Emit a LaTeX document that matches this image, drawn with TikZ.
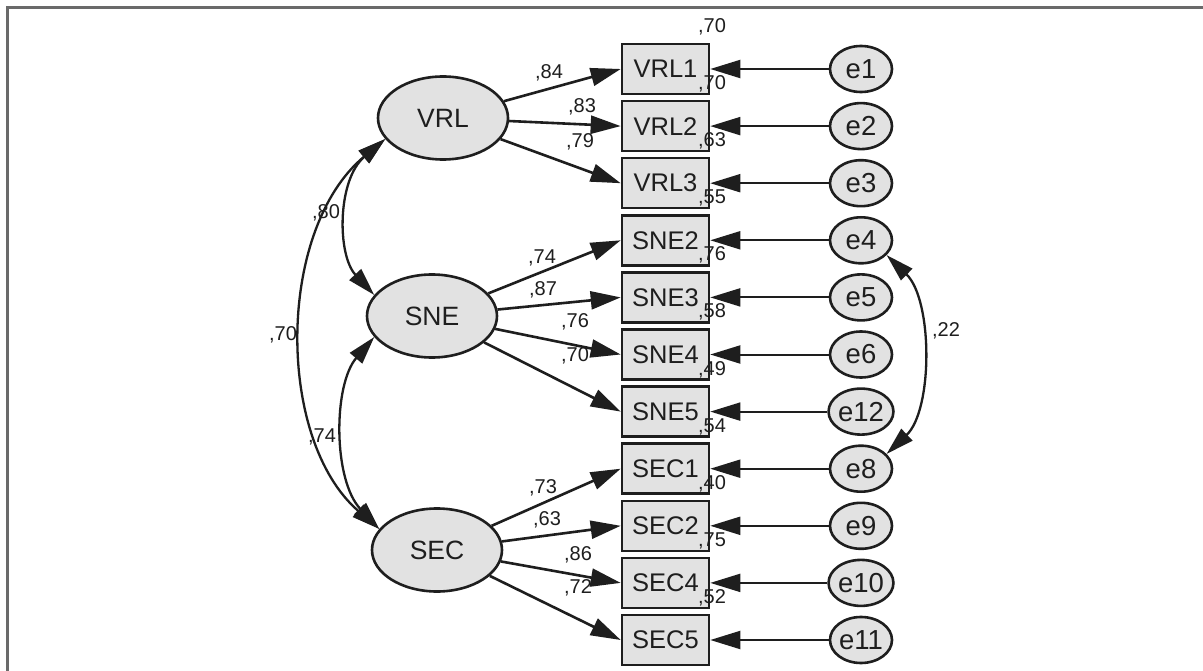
\documentclass[tikz,border=0pt]{standalone}
\usepackage{fontspec}
\setmainfont{Liberation Sans}
\usetikzlibrary{arrows.meta,shapes.geometric}
\definecolor{ink}{HTML}{1E1E1E}
\definecolor{fillg}{HTML}{E2E2E2}
\definecolor{framec}{HTML}{6A6A6A}
\begin{document}
\begin{tikzpicture}[x=1pt,y=-1pt,
 obs/.style={draw=ink, line width=2.6pt, fill=fillg, minimum width=87pt, minimum height=50pt, inner sep=0pt, text=ink, font=\fontsize{25.5}{30}\selectfont},
 lat/.style={ellipse, draw=ink, line width=2.6pt, fill=fillg, minimum width=130pt, minimum height=83pt, inner sep=0pt, text=ink, font=\fontsize{26.5}{30}\selectfont},
 err/.style={ellipse, draw=ink, line width=2.6pt, fill=fillg, minimum width=62pt, minimum height=46pt, inner sep=0pt, text=ink, font=\fontsize{27.5}{30}\selectfont},
 load/.style={draw=ink, line width=2.6pt, -{Triangle[length=30pt,width=18pt]}},
 errpath/.style={draw=ink, line width=2pt, -{Triangle[length=30pt,width=18pt]}},
 cov/.style={draw=ink, line width=2.3pt, {Triangle[length=28pt,width=16pt]}-{Triangle[length=28pt,width=16pt]}},
 lbl/.style={text=ink, font=\fontsize{20}{23}\selectfont, inner sep=0pt},
]
\useasboundingbox (0,0) rectangle (1203,671);
\fill[white] (0,0) rectangle (1203,671);
\draw[framec, line width=2.4pt] (7.3,671) -- (7.3,7.5) -- (1203,7.5);

% latent variables
\node[lat] (VRL) at (443,118) {VRL};
\node[lat] (SNE) at (432,316) {SNE};
\node[lat] (SEC) at (437,550) {SEC};

% observed variables
\node[obs] (VRL1) at (665.5,69) {VRL1};
\node[obs] (VRL2) at (665.5,126.1) {VRL2};
\node[obs] (VRL3) at (665.5,183.2) {VRL3};
\node[obs] (SNE2) at (665.5,240.3) {SNE2};
\node[obs] (SNE3) at (665.5,297.4) {SNE3};
\node[obs] (SNE4) at (665.5,354.5) {SNE4};
\node[obs] (SNE5) at (665.5,411.6) {SNE5};
\node[obs] (SEC1) at (665.5,468.7) {SEC1};
\node[obs] (SEC2) at (665.5,525.8) {SEC2};
\node[obs] (SEC4) at (665.5,582.9) {SEC4};
\node[obs] (SEC5) at (665.5,640) {SEC5};

% errors
\node[err] (e1) at (861,69) {e1};
\node[err] (e2) at (861,126.1) {e2};
\node[err] (e3) at (861,183.2) {e3};
\node[err] (e4) at (861,240.3) {e4};
\node[err] (e5) at (861,297.4) {e5};
\node[err] (e6) at (861,354.5) {e6};
\node[err] (e12) at (861,411.6) {e12};
\node[err] (e8) at (861,468.7) {e8};
\node[err] (e9) at (861,525.8) {e9};
\node[err] (e10) at (861,582.9) {e10};
\node[err] (e11) at (861,640) {e11};

% error paths
\foreach \e/\b in {e1/VRL1,e2/VRL2,e3/VRL3,e4/SNE2,e5/SNE3,e6/SNE4,e12/SNE5,e8/SEC1,e9/SEC2,e10/SEC4,e11/SEC5}
  \draw[errpath] (\e.west) -- (\b.east);

% loadings
\foreach \b in {VRL1,VRL2,VRL3} \draw[load] (VRL) -- (\b.west);
\foreach \b in {SNE2,SNE3,SNE4,SNE5} \draw[load] (SNE) -- (\b.west);
\foreach \b in {SEC1,SEC2,SEC4,SEC5} \draw[load] (SEC) -- (\b.west);

% covariances
\draw[cov] (VRL.200) .. controls (337,180) and (337,255) .. (SNE.160);
\draw[cov] (SNE.200) .. controls (333,385) and (333,480) .. (SEC.160);
\draw[cov] (VRL.200) .. controls (276,230) and (276,440) .. (SEC.160);
\draw[cov] (e4.-30) .. controls (933,300) and (933,410) .. (e8.30);

% loading labels
\node[lbl] (l1) at (549,73) {,84};
\node[lbl] (l2) at (582,107) {,83};
\node[lbl] (l3) at (580,142) {,79};
\node[lbl] (l4) at (542,258) {,74};
\node[lbl] (l5) at (543,290) {,87};
\node[lbl] (l6) at (575,322) {,76};
\node[lbl] (l7) at (575,356) {,70};
\node[lbl] (l8) at (543,488) {,73};
\node[lbl] (l9) at (547,520) {,63};
\node[lbl] (l10) at (578,555) {,86};
\node[lbl] (l11) at (578,588) {,72};

% covariance labels
\node[lbl] (c1) at (326,213) {,80};
\node[lbl] (c2) at (283,335) {,70};
\node[lbl] (c3) at (322,437) {,74};
\node[lbl] (c4) at (946,331) {,22};

% squared multiple correlations
\node[lbl] (r1) at (712,27) {,70};
\node[lbl] (r2) at (712,84) {,70};
\node[lbl] (r3) at (712,141) {,63};
\node[lbl] (r4) at (712,198) {,55};
\node[lbl] (r5) at (712,255) {,76};
\node[lbl] (r6) at (712,312) {,58};
\node[lbl] (r7) at (712,370) {,49};
\node[lbl] (r8) at (712,427) {,54};
\node[lbl] (r9) at (712,484) {,40};
\node[lbl] (r10) at (712,541) {,75};
\node[lbl] (r11) at (712,598) {,52};
\end{tikzpicture}
\end{document}
